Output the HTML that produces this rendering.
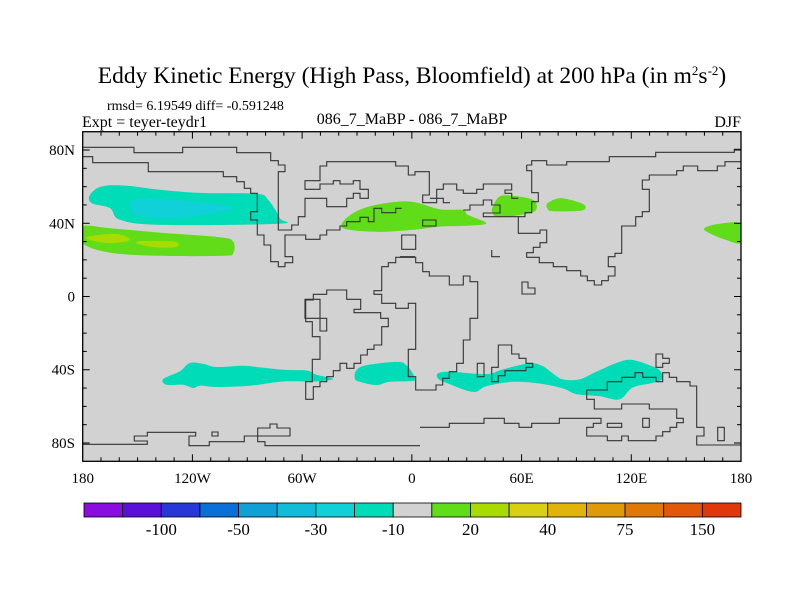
<!DOCTYPE html>
<html><head><meta charset="utf-8"><style>
html,body{margin:0;padding:0;background:#fff;}
svg{display:block;font-family:"Liberation Serif",serif;}
</style></head><body>
<svg id="chart" width="800" height="600" viewBox="0 0 800 600">
<text x="412" y="83" text-anchor="middle" font-size="23.5">Eddy Kinetic Energy (High Pass, Bloomfield) at 200 hPa (in m<tspan dy="-8" font-size="13">2</tspan><tspan dy="8">s</tspan><tspan dy="-8" font-size="13">-2</tspan><tspan dy="8">)</tspan></text>
<text x="107" y="110" font-size="14">rmsd= 6.19549 diff= -0.591248</text>
<text x="82" y="127" font-size="16">Expt = teyer-teydr1</text>
<text x="412" y="124" text-anchor="middle" font-size="16">086_7_MaBP - 086_7_MaBP</text>
<text x="741" y="127" text-anchor="end" font-size="16">DJF</text>
<rect x="82.7" y="131.7" width="658.3" height="329.6" fill="#d2d2d2"/>
<g id="fields"></g>
<g id="coast" fill="none" stroke="#333" stroke-width="1.1">
<path d="M82.7,147.3H134V152.7H182.7V147.3H236.7V152.7H270.7V160.7H278.3V165H285V171.7H278.3V230H291.7V225H298.3V216.7H305V198.3H326.7V206.7H346.7V198.3H353.3V193.3H360V198.3H368.3V189.3H360V180.7H353.3V184H340V180.7H333.3V184H320V189.3H305V180.7H320V166H326.7V161.7H395.7V166H408.3V175H415V171.7H429.3V195H422.7V202.7H436.7V198.3H443.3V202.7H450"/>
<path d="M82.7,156.7H92.7V162.7H148.3V171.7H223.3V176.7H236.7V181.7H244.3V188.3H250.7V193.3H257.3V211.7H250.7V220H257.3V235H264V245H270.7V261.7H278.3V266.7H285V262.7H292.7V256.7H285V235H305.7V239.3H320V235H326.7V230H340V226H346.7V221.7H360V217.3H368.3V221.7H374V208.3H381.7V212.7H395.7V208.3H401.7"/>
<path d="M401.7,235H415.7V249.3H401.7Z M422.7,220H436V226H422.7Z"/>
<path d="M430,198.3H436.7V189.3H443.3V184H456.7V190H463.3V193.3H476.7V189.3H483.3V184H511.7V190H505V193.3H511.7V198.3H518.3"/>
<path d="M400,166H408 M463.3,210H470V205H483.3V200H491.7V205H500V213H483.3V216.7H518.3"/>
<path d="M526.7,165H531.7V160.7H546.7V165H566.7V161.7H609.3V156.7H655.7V152.3H734.3V149.3H741"/>
<path d="M526.7,165V170.7H531.7V192.7H538.3V201.7H531.7V212.7H525V216.7H518.3V233.3H540V230H546.7V242.7H540V247.3H533.3V252.7H526.7V257.3H539.3V262.7H553.3V266.7H566.7V270.7H580.7V276H587.3V280.7H594.3V285H601.7V280.7H608.3V276H615V266.7H608.3V256.7H615V253.3H621.7V226H635.7V216.7H642.3V211.7H649.3V189.3H642.3V180H649.3V175H676.7V170.7H683.3V166H697.7V170.7H717.3V166H725V161.7H741"/>
<path d="M491.7,250H491.7V256.7H500 M522,282H528V288H535V294H522Z"/>
<path d="M381.7,266.7H388.3V262.7H395.7V257.3H415.7V262.7H422.7V271.7H429.3V276H449.3V285H463.3V276H470V281.7H477.7V318.3H470V340H463.3V363.3H456.7V371.7H449.3V378.3H442.7V385H436V390H415.7V376.7H408.3V349.3H415.7V303.3H408.3V308.3H395.7V303.3H381.7V294.3H374V290.7H381.7Z"/>
<path d="M400,256.7H415 M498.3,345H511.7V354H519V358.3H526V363.3H532.7V367.3H526V370.7H505V375.7H498.3V381.7H491.7V367.3H498.3Z M477.3,363.3H484V376.7H477.3Z"/>
<path d="M313.3,294.3H326.7V290H346.7V299.3H360.7V309.3H354V312.7H380.7V318.3H388.3V326.7H381.7V345H374V349.3H367.3V355H360.7V363.3H354V368.3H346.7V363.3H340V370.7H333.3V376.7H326.7V381.7H320V386.7H313.3V399.3H305.7V381.7H312.3V359.3H320V336.7H312.3V321.7H305.7V300H313.3Z"/>
<path d="M305,299.3H320V318.3H326.7V331H320V318.3H305Z"/>
<path d="M82.7,444.3H147.3V441H134.3V436H147.3V432.3H195.7V436H189V445.7H209.3V441.7H244.3V436H257.7V441.7H265V445.7H420 M212,432H218V436H212Z M257.7,436V428H270V424H277V428H290V436H257.7"/>
<path d="M420,427.3H449.3V423.3H484V418.3H504.3V423.3H519V427.3H531.7V423.3H559.3V418.3H601V423.3H593.3V427.3H586.7V436H607.3V440.7H621.7V436H628.3V440.7H656V436H662.7V431.7H670V427.3H676.7V422.7H683.3V418.3H676.7V409H649.3V404H621.7V409H594.3V399.3H586.7V390H607.3V381.7H621.7V377.3H635V372.7H642.7V377.3H656V381.7H662.7V372.7H669.3V377.3H676.7V381.7H690V386H696.7V427.3H704V436H696.7V445H741"/>
<path d="M607.3,423.3H621.7V427.3H607.3Z M642.7,418.3H649.3V427.3H642.7Z M717.7,427.3H724.3V440.7H717.7Z M656,354H662.7V358.3H669.3V363.3H662.7V367.3H656Z"/>
</g>
<rect x="82.7" y="131.7" width="658.3" height="329.6" fill="none" stroke="#000" stroke-width="1.3"/>
<g id="ticks" stroke="#000" stroke-width="1"></g>
<g id="labels" font-size="15"></g>
<g id="colorbar"></g>
</svg>
<script>
// ---- data ----
const latTicks = [80, 40, 0, -40, -80];
const latTickLabels = ["80N", "40N", "0", "40S", "80S"];
const lonTicks = [-180, -120, -60, 0, 60, 120, 180];
const lonTickLabels = ["180", "120W", "60W", "0", "60E", "120E", "180"];
const levelColors = ["#8a0ce0","#5a10d8","#2838d8","#0870d8","#10a0d8","#10bcd8","#10d0d8","#00dcb8","#d2d2d2","#60dc18","#a8dc00","#d8d010","#e0b408","#e09a08","#e07808","#e05808","#e03808"];
const levelLabels = ["-100","-50","-30","-10","20","40","75","150"];
const regionLevels = [7, 6, 9, 10, 10, 9, 9, 9, 9, 7, 7, 7];
const nPacificTeal = [[-176,55.5],[-169.6,60.1],[-156,60.5],[-137.8,58.3],[-114.1,56.5],[-85,56.1],[-78.6,52.8],[-72.2,42.8],[-73.1,39.7],[-137.8,39.1],[-159.6,41.9],[-165.1,48.3],[-175.1,51]];
const nPacificBlue = [[-153.2,51.9],[-145,53.7],[-119.6,51.9],[-99.5,49.1],[-103.2,46.4],[-128.7,42.8],[-148.7,44],[-153.2,47.3]];
const subtropGreen = [[-180,38.2],[-165.1,37.3],[-137.8,34.9],[-105,32.4],[-97.7,30],[-97.7,23.6],[-103.2,22.2],[-137.8,22.2],[-165.1,24],[-180,29.1]];
const yellowA = [[-177,32.7],[-161.8,34.2],[-154.1,30.9],[-165.1,29.1],[-176,30.9]];
const yellowB = [[-150.5,30],[-129.6,30],[-129.6,26.9],[-143.2,27.2]];
const atlanticGreen = [[-38.5,39.1],[-32.2,45.5],[-19.4,50.1],[-1.2,51.9],[15.2,47.7],[27.9,47.3],[30.6,44.6],[40.7,40],[29.8,38.6],[15.2,38.2],[0.6,36.4],[-17.6,35.3],[-34,36.4]];
const asiaGreenA = [[44.3,49.1],[48,54.6],[55.2,55],[66.2,52.8],[68.3,48.3],[64.3,45.5],[48,43.3],[44,45.8]];
const asiaGreenB = [[74.3,51],[80.7,53.7],[89.9,51.9],[94.8,49.5],[92.6,46.9],[77.1,46.6],[74,48.3]];
const pacificGreenE = [[160,37.3],[168.1,39.7],[180,39.7],[180,29.4],[171.8,30.9],[162.7,34.6]];
const southTealA = [[-136,-45.1],[-126.9,-40.9],[-121.4,-36.3],[-114.3,-36.7],[-106.8,-38.5],[-92.3,-37.8],[-83.1,-38.7],[-70.4,-40],[-57.6,-40.4],[-52.2,-42.7],[-43.1,-45.1],[-54,-46.4],[-70.4,-46.4],[-88.6,-48.7],[-106.8,-49.4],[-115.9,-48.7],[-119.6,-50],[-125.1,-48.2],[-134.1,-48.2]];
const southTealB = [[-30.3,-40.2],[-24.9,-37.5],[-8.5,-35.7],[-3,-37.5],[1.5,-43.9],[0.6,-46.1],[-12.1,-46.6],[-19.4,-48.4],[-28.5,-46.6],[-31.2,-44.8]];
const southTealC = [[14.3,-42],[20.7,-41.1],[40.7,-42.4],[49.8,-39.8],[64.4,-36.5],[71.6,-38],[77.1,-42],[82.6,-45.3],[91.7,-45.3],[100.8,-41.1],[113.5,-35.7],[120.8,-34.7],[129.9,-37.5],[135.4,-40.2],[137.2,-44.8],[131.7,-47.2],[120.8,-49.7],[113.5,-56.2],[102.6,-54.4],[89.9,-53.3],[82.6,-50.2],[69.8,-47.5],[55.2,-46.6],[40.7,-49],[33.4,-52.1],[18.9,-47.2],[14.3,-44.8]];
const regions = [nPacificTeal, nPacificBlue, subtropGreen, yellowA, yellowB, atlanticGreen, asiaGreenA, asiaGreenB, pacificGreenE, southTealA, southTealB, southTealC];
const regionNames = ["n-pacific-teal","n-pacific-blue","subtropical-green","yellow-patch-a","yellow-patch-b","atlantic-europe-green","asia-green-a","asia-green-b","w-pacific-green","s-pacific-teal","s-atlantic-teal","s-indian-teal"];

const X0 = 82.7, X1 = 741, Y0 = 131.7, Y1 = 461.3;
function lonX(lon){ return X0 + (lon + 180) * (X1 - X0) / 360; }
function latY(lat){ return Y0 + (90 - lat) * (Y1 - Y0) / 180; }
const NS = "http://www.w3.org/2000/svg";
function mk(tag, parent){ const e = document.createElementNS(NS, tag); parent.appendChild(e); return e; }

function smoothPath(pts){
  const P = pts.map(p => [lonX(p[0]), latY(p[1])]);
  const n = P.length; let d = "M" + P[0][0].toFixed(1) + "," + P[0][1].toFixed(1);
  for (let i = 0; i < n; i++){
    const p0 = P[(i-1+n)%n], p1 = P[i], p2 = P[(i+1)%n], p3 = P[(i+2)%n];
    const c1 = [p1[0]+(p2[0]-p0[0])/6, p1[1]+(p2[1]-p0[1])/6];
    const c2 = [p2[0]-(p3[0]-p1[0])/6, p2[1]-(p3[1]-p1[1])/6];
    d += "C"+c1[0].toFixed(1)+","+c1[1].toFixed(1)+" "+c2[0].toFixed(1)+","+c2[1].toFixed(1)+" "+p2[0].toFixed(1)+","+p2[1].toFixed(1);
  }
  return d + "Z";
}
const fields = document.getElementById("fields");
const clip = mk("clipPath", mk("defs", document.getElementById("chart")));
clip.setAttribute("id", "mapclip");
const cr = mk("rect", clip);
cr.setAttribute("x", X0); cr.setAttribute("y", Y0); cr.setAttribute("width", X1-X0); cr.setAttribute("height", Y1-Y0);
fields.setAttribute("clip-path", "url(#mapclip)");
regions.forEach((r, i) => {
  const p = mk("path", fields);
  p.setAttribute("d", smoothPath(r));
  p.setAttribute("fill", levelColors[regionLevels[i]]);
  
  
});

const ticks = document.getElementById("ticks");
function line(x1,y1,x2,y2){ const l = mk("line", ticks); l.setAttribute("x1",x1); l.setAttribute("y1",y1); l.setAttribute("x2",x2); l.setAttribute("y2",y2); return l; }
for (let lat = -80; lat <= 80; lat += 10){
  const y = latY(lat), len = (lat % 40 === 0) ? 7 : 4;
  line(X0, y, X0+len, y); line(X1, y, X1-len, y);
}
for (let lon = -170; lon <= 170; lon += 10){
  const x = lonX(lon), len = (lon % 60 === 0) ? 7 : 4;
  line(x, Y0, x, Y0+len); line(x, Y1, x, Y1-len);
}
const labels = document.getElementById("labels");
latTicks.forEach((lat, i) => {
  const t = mk("text", labels);
  t.setAttribute("x", 75); t.setAttribute("y", latY(lat) + 5); t.setAttribute("text-anchor", "end");
  t.textContent = latTickLabels[i];
  
  
});
lonTicks.forEach((lon, i) => {
  const t = mk("text", labels);
  t.setAttribute("x", lonX(lon)); t.setAttribute("y", 483); t.setAttribute("text-anchor", "middle");
  t.textContent = lonTickLabels[i];
  
  
});

const cb = document.getElementById("colorbar");
const CB0 = 84, CB1 = 741, CBY = 503, CBH = 14;
const bw = (CB1 - CB0) / levelColors.length;
levelColors.forEach((c, i) => {
  const r = mk("rect", cb);
  r.setAttribute("x", CB0 + i*bw); r.setAttribute("y", CBY); r.setAttribute("width", bw); r.setAttribute("height", CBH);
  r.setAttribute("fill", c); r.setAttribute("stroke", "#000"); r.setAttribute("stroke-width", "0.8");
  
  
});
levelLabels.forEach((s, i) => {
  const t = mk("text", cb);
  t.setAttribute("x", CB0 + (2 + 2*i) * bw); t.setAttribute("y", 535); t.setAttribute("text-anchor", "middle");
  t.setAttribute("font-size", "17");
  t.textContent = s;
  
  
});
</script>
</body></html>
